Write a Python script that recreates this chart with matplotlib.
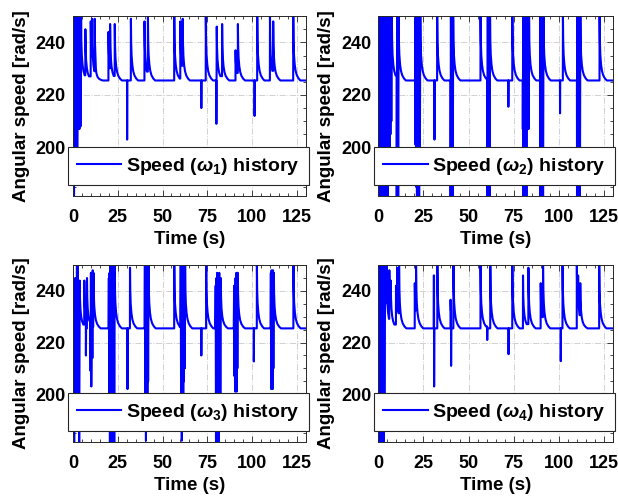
import matplotlib
matplotlib.use("Agg")
import matplotlib.pyplot as plt
from matplotlib.ticker import MultipleLocator

plt.rcParams['font.family'] = ['Liberation Sans', 'DejaVu Sans']
plt.rcParams['font.weight'] = 'bold'
plt.rcParams['mathtext.fontset'] = 'custom'
plt.rcParams['mathtext.rm'] = 'Liberation Sans:bold'
plt.rcParams['mathtext.it'] = 'Liberation Sans:italic'

# Base speed and shape of the decay after each speed peak
BASE = 225.5
DECAY_DT = [0.0, 0.15, 0.4, 0.8, 1.3, 2.0, 3.0, 4.0]
DECAY_FRAC = [1.0, 0.62, 0.40, 0.25, 0.15, 0.08, 0.03, 0.0]

# --- omega 1 ---
bursts_w1 = [(0.0, 0.3, [238, 175, 175, 250, 186, 250, 186, 250, 200, 226, 228, 250, 207, 250, 208, 250])]
spikes_w1 = [(6.9, 245), (9.9, 248), (10.6, 249), (12.1, 249), (12.6, 233), (19.8, 244), (20.7, 247),
             (23.3, 247), (32.3, 249), (39.9, 248), (41.8, 250), (56.5, 250), (59.9, 248), (61.2, 249),
             (74.1, 250), (80.2, 246), (83.2, 247), (90.7, 237), (92.0, 247), (102.8, 250), (109.9, 250),
             (111.7, 248), (122.9, 250)]
dips_w1 = [(30.2, 203), (71.6, 215), (80.0, 209), (101.3, 212)]

# --- omega 2 ---
bursts_w2 = [
    (0.0, 0.25, [250, 185, 250, 175, 250, 175, 248, 175, 250, 190, 250, 175, 250, 188, 250, 175,
                 250, 175, 250, 195, 250, 175, 250, 188, 250, 200, 250, 205, 250, 210, 250]),
    (10.2, 0.2, [175, 250, 175, 250, 175, 250]),
    (20.4, 0.2, [249, 201, 250, 185, 250, 175, 250, 175, 250, 190, 250, 175, 250, 195, 250]),
    (40.0, 0.2, [175, 250, 175, 250, 175, 250, 175, 250]),
    (60.4, 0.2, [175, 250, 175, 250, 175, 250, 175, 250]),
    (80.0, 0.2, [207, 250, 175, 250, 175, 245, 175, 250, 190, 250, 175, 250, 207, 250, 210, 250, 207, 250]),
    (89.6, 0.2, [175, 250, 175, 250, 175, 250, 175, 250, 175, 250]),
    (110.0, 0.2, [175, 250, 175, 250, 175, 250, 175, 250, 175, 250]),
]
spikes_w2 = [(32.6, 250), (56.6, 250), (74.2, 250), (102.2, 250), (122.5, 250)]
dips_w2 = [(31.1, 203), (72.0, 215.5), (100.6, 213)]

# --- omega 3 ---
bursts_w3 = [
    (0.0, 0.25, [250, 175, 175, 175, 226, 245, 200, 245, 226, 250, 198, 250, 226, 226, 175, 244]),
    (9.6, 0.2, [226, 209, 247, 203, 226, 247, 214, 248, 226, 247]),
    (19.8, 0.2, [226, 245, 200, 247, 180, 250, 175, 244, 175, 250, 190, 250, 175, 250, 200, 250, 175, 250]),
    (39.9, 0.2, [226, 250, 200, 250, 182, 248, 198, 250, 200, 250, 205, 250]),
    (59.9, 0.2, [226, 250, 200, 245, 182, 250, 190, 248, 200, 250, 205, 247, 210, 250]),
    (79.4, 0.2, [226, 242, 175, 245, 175, 247, 175, 242, 175, 245, 180, 247, 190, 242, 200, 245]),
    (89.7, 0.2, [226, 242, 207, 241, 201, 245, 207, 247, 201, 247, 210, 247]),
    (110.2, 0.2, [226, 247, 202, 248, 205, 247, 202, 248, 210, 247]),
]
spikes_w3 = [(6.3, 244), (7.8, 245), (31.8, 249), (56.5, 250), (74.3, 250), (102.6, 250), (123.0, 250)]
dips_w3 = [(7.2, 215), (30.4, 202), (71.6, 215), (100.9, 212.7)]

# --- omega 4 ---
bursts_w4 = [(0.0, 0.2, [250, 175, 226, 175, 250, 175, 226, 175, 226, 175, 250, 175, 226, 180, 226, 175,
                         250, 190, 226, 250])]
spikes_w4 = [(4.6, 250), (6.1, 248), (6.9, 244), (9.8, 242), (10.4, 249), (11.5, 250), (20.2, 243),
             (20.9, 250), (30.7, 246), (32.7, 250), (40.0, 236.6), (41.6, 250), (56.6, 250), (62.0, 250),
             (74.2, 250), (80.1, 246), (83.1, 249), (89.9, 243), (91.2, 250), (102.0, 250), (109.9, 250),
             (110.6, 246), (111.8, 243), (122.3, 250)]
dips_w4 = [(30.9, 203), (40.3, 211), (60.3, 221), (72.1, 215.5), (101.0, 212.8)]


# Builds the speed history polyline from the events
def build_series(bursts, spikes, dips, t_end=130.0, base=BASE):
    events = [(t, 'burst', (dt, vals)) for t, dt, vals in bursts]
    events += [(t, 'up', p) for t, p in spikes]
    events += [(t, 'dip', v) for t, v in dips]
    events.sort(key=lambda e: e[0])
    ts, vs = [], []

    def decay(t0, start):
        for off, fr in zip(DECAY_DT, DECAY_FRAC):
            ts.append(t0 + off)
            vs.append(base + (start - base) * fr)

    for t, kind, val in events:
        while ts and ts[-1] >= t:
            ts.pop()
            vs.pop()
        last = vs[-1] if vs else None
        if kind == 'up':
            ts.append(t)
            vs.append(last if last is not None else base)
            decay(t + 0.05, val)
        elif kind == 'dip':
            ts += [t, t + 0.05, t + 0.15]
            vs += [last if last is not None else base, val, base]
        else:
            dt, vals = val
            start = t
            if last is not None:
                ts.append(t)
                vs.append(last)
                start = t + 0.05
            for i, v in enumerate(vals):
                ts.append(start + i * dt)
                vs.append(v)
            if vals[-1] > base:
                decay(ts[-1] + 0.05, vals[-1])
    ts.append(t_end)
    vs.append(base)
    return ts, vs


panels = [
    (bursts_w1, spikes_w1, dips_w1, 'Speed ($\\omega_1$) history'),
    (bursts_w2, spikes_w2, dips_w2, 'Speed ($\\omega_2$) history'),
    (bursts_w3, spikes_w3, dips_w3, 'Speed ($\\omega_3$) history'),
    (bursts_w4, spikes_w4, dips_w4, 'Speed ($\\omega_4$) history'),
]
positions = [
    [0.118, 0.611, 0.377, 0.357],
    [0.612, 0.611, 0.380, 0.357],
    [0.118, 0.123, 0.377, 0.351],
    [0.612, 0.123, 0.380, 0.351],
]

fig = plt.figure(figsize=(6.18, 5.04), dpi=100)

for (bursts, spikes, dips, label), pos in zip(panels, positions):
    ax = fig.add_axes(pos)
    t, w = build_series(bursts, spikes, dips)
    ax.plot(t, w, color=(0, 0, 1), linewidth=1.5, label=label)

    ax.set_xlim(0, 130)
    ax.set_ylim(181.5, 250)
    ax.set_xticks([0, 25, 50, 75, 100, 125])
    ax.set_yticks([200, 220, 240])
    ax.xaxis.set_minor_locator(MultipleLocator(5))
    ax.yaxis.set_minor_locator(MultipleLocator(5))
    ax.tick_params(which='both', direction='in', top=True, right=True, width=0.6, color='0.15')
    ax.tick_params(which='major', length=4, labelsize=13)
    ax.tick_params(which='minor', length=2)
    ax.tick_params(axis='x', which='major', pad=9)
    ax.tick_params(axis='y', which='major', pad=5)
    ax.grid(True, which='major', linestyle='-.', color='0.82', linewidth=0.7)
    for sp in ax.spines.values():
        sp.set_color('0.15')
        sp.set_linewidth(0.7)

    ax.set_xlabel('Time (s)', fontsize=13.5, fontweight='bold', labelpad=4)
    ax.set_ylabel('Angular speed [rad/s]', fontsize=13.5, fontweight='bold', labelpad=4)

    leg = ax.legend(loc='lower center', bbox_to_anchor=(0.495, 0.06), fontsize=14, fancybox=False,
                    edgecolor='0.15', framealpha=1, handlelength=2.3, borderpad=0.45,
                    borderaxespad=0, handletextpad=0.25)
    leg.get_frame().set_linewidth(0.8)

fig.savefig('out.png', dpi=100)
